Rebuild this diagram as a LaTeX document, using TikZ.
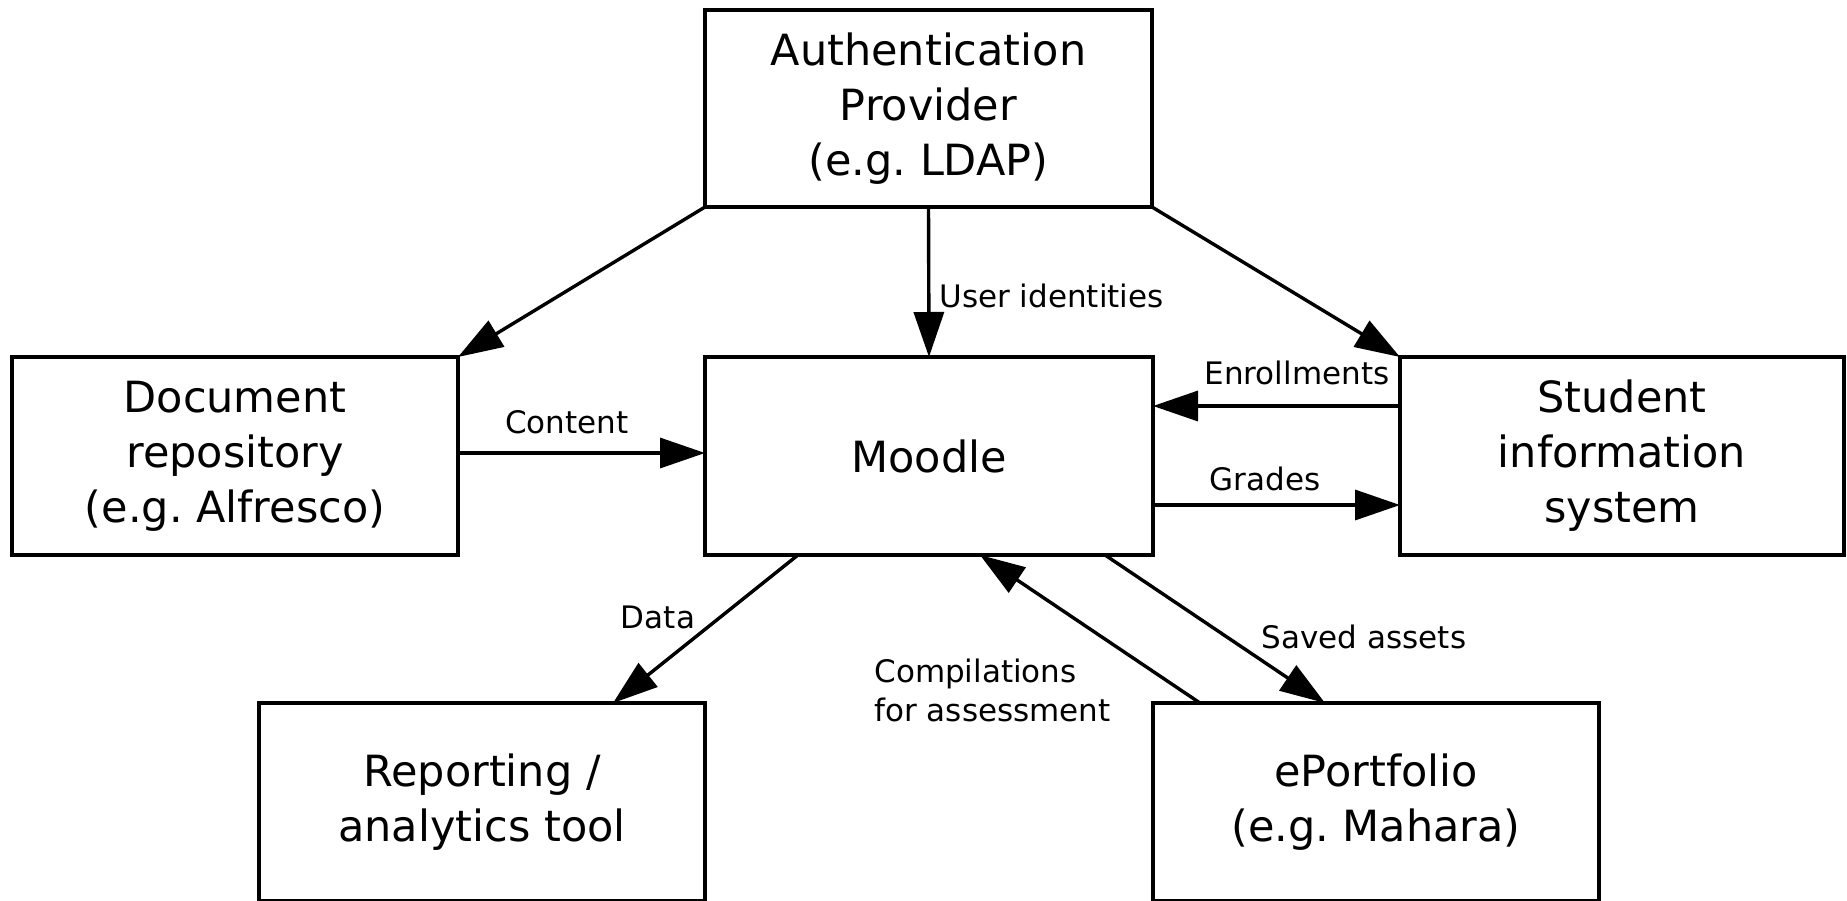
\documentclass[tikz,border=0pt]{standalone}
\usepackage{fontspec}
\setmainfont{DejaVu Sans}
\usetikzlibrary{arrows.meta}
\tikzset{
  box/.style={draw=black, line width=2pt, inner sep=0pt, outer sep=0pt,
    align=center, font=\fontsize{21.5pt}{27.5pt}\selectfont},
  conn/.style={line width=1.7pt, -{Triangle[length=22.5pt, width=15pt]}},
  lbl/.style={font=\fontsize{15.5pt}{19.5pt}\selectfont, inner sep=0pt}
}
\begin{document}
\frenchspacing
\begin{tikzpicture}[x=0.5pt, y=-0.5pt]
\useasboundingbox (0,0) rectangle (1847,900);
\node[box, minimum width=223.5pt, minimum height=98.5pt] (auth) at (928.5,108.5) {Authentication\\Provider\\(e.g. LDAP)};
\node[box, minimum width=223pt, minimum height=99pt] (doc) at (235,456) {Document\\repository\\(e.g. Alfresco)};
\node[box, minimum width=224pt, minimum height=99pt] (moodle) at (929,456) {Moodle};
\node[box, minimum width=222pt, minimum height=99pt] (sis) at (1622,456) {Student\\information\\system};
\node[box, minimum width=223pt, minimum height=99pt] (rep) at (482,802) {Reporting /\\analytics tool};
\node[box, minimum width=223pt, minimum height=99pt] (eport) at (1376,802) {ePortfolio\\(e.g. Mahara)};

\draw[conn] (auth.south west) -- (doc.north east);
\draw[conn] (auth.south) -- (moodle.north);
\draw[conn] (auth.south east) -- (sis.north west);
\draw[conn] ([yshift=1.5pt]doc.east) -- ([yshift=1.5pt]moodle.west);
\draw[conn] ([yshift=25pt]sis.west) -- ([yshift=25pt]moodle.east);
\draw[conn] ([yshift=-24.5pt]moodle.east) -- ([yshift=-24.5pt]sis.west);
\draw[conn] ([xshift=-65.5pt]moodle.south) -- ([xshift=65.5pt]rep.north);
\draw[conn] ([xshift=-88pt]eport.north) -- ([xshift=25.5pt]moodle.south);
\draw[conn] ([xshift=88pt]moodle.south) -- ([xshift=-25.5pt]eport.north);

\node[lbl, anchor=west] (luser) at (939,296) {User identities};
\node[lbl] (lcontent) at (567,422) {Content};
\node[lbl] (lenrol) at (1297,373) {Enrollments};
\node[lbl] (lgrades) at (1265,479) {Grades};
\node[lbl] (ldata) at (658,617) {Data};
\node[lbl, anchor=west, align=left] (lcomp) at (874,690) {Compilations\\for assessment};
\node[lbl] (lsaved) at (1364,637) {Saved assets};
\end{tikzpicture}
\end{document}
